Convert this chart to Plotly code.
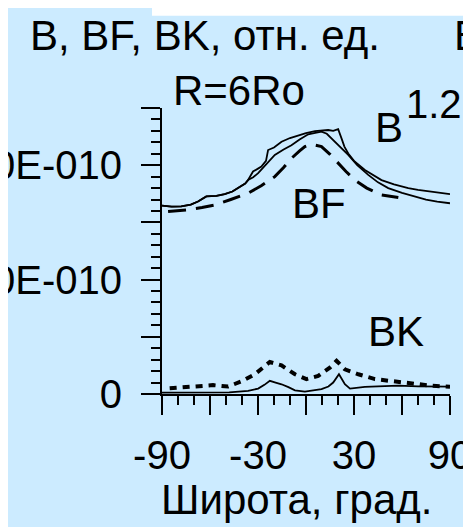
import plotly.graph_objects as go

# ---- data (latitude in degrees, values in relative units) ----
lat_b1 = [-90, -84, -78, -72, -67.5, -62.3, -56, -50.8, -46, -42.5, -38, -36.2, -33.1, -30, -27.9, -25, -23.7,
          -20, -15.3, -10, -4.9, 0, 5.6, 10, 13.9, 17, 20.1, 22.2, 24, 26.4, 30, 36.8, 42, 47.2, 55, 63.9, 70, 78.5, 84, 90]
val_b1 = [6.59e-10, 6.55e-10, 6.56e-10, 6.62e-10, 6.73e-10, 6.91e-10, 6.93e-10, 6.99e-10, 7.08e-10, 7.20e-10,
          7.36e-10, 7.48e-10, 7.78e-10, 7.88e-10, 7.95e-10, 8.15e-10, 8.53e-10, 8.62e-10, 8.82e-10, 8.95e-10,
          9.05e-10, 9.12e-10, 9.19e-10, 9.21e-10, 9.23e-10, 9.20e-10, 9.26e-10, 8.94e-10, 8.65e-10, 8.41e-10,
          8.15e-10, 7.83e-10, 7.64e-10, 7.48e-10, 7.33e-10, 7.20e-10, 7.14e-10, 7.08e-10, 7.04e-10, 6.99e-10]

lat_b2 = [-90, -84, -78, -72, -67.5, -62.3, -56, -50.8, -46, -42.5, -38, -36.2, -33, -29.9, -25, -19.5, -14,
          -9.1, -4, 1.4, 5, 9.7, 13, 15.9, 20, 26.4, 32, 38.9, 45, 51.4, 60, 68.1, 75, 82, 90]
val_b2 = [6.59e-10, 6.55e-10, 6.56e-10, 6.62e-10, 6.73e-10, 6.91e-10, 6.93e-10, 6.99e-10, 7.08e-10, 7.20e-10,
          7.36e-10, 7.48e-10, 7.58e-10, 7.72e-10, 8.02e-10, 8.36e-10, 8.55e-10, 8.70e-10, 8.90e-10, 9.08e-10,
          9.12e-10, 9.17e-10, 9.10e-10, 8.94e-10, 8.70e-10, 8.36e-10, 8.00e-10, 7.66e-10, 7.40e-10, 7.20e-10,
          7.03e-10, 6.91e-10, 6.80e-10, 6.73e-10, 6.67e-10]

lat_bf = [-86.2, -73.7, -65, -57.0, -47, -36.2, -28, -19.5, -14, -9.1, -4, -0.7, 3.4, 9.7, 15, 20.1, 25, 30.6, 38, 47.2, 57.7]
val_bf = [6.38e-10, 6.44e-10, 6.52e-10, 6.61e-10, 6.80e-10, 7.02e-10, 7.28e-10, 7.60e-10, 7.92e-10, 8.24e-10,
          8.50e-10, 8.65e-10, 8.73e-10, 8.65e-10, 8.38e-10, 8.07e-10, 7.78e-10, 7.48e-10, 7.20e-10, 6.96e-10, 6.87e-10]

lat_bk_solid = [-90, -75, -60, -48, -36.2, -29.9, -26, -22.6, -19, -15.3, -11, -6.9, -0.7, 5, 9.7, 14,
                17.0, 20.6, 22.5, 24.3, 27.5, 32, 36.8, 45, 57.7, 70, 80, 90]
val_bk_solid = [0.05e-10, 0.05e-10, 0.05e-10, 0.06e-10, 0.11e-10, 0.19e-10, 0.32e-10, 0.46e-10, 0.40e-10,
                0.34e-10, 0.24e-10, 0.13e-10, 0.08e-10, 0.12e-10, 0.17e-10, 0.26e-10, 0.40e-10, 0.69e-10,
                0.50e-10, 0.34e-10, 0.19e-10, 0.22e-10, 0.25e-10, 0.27e-10, 0.29e-10, 0.27e-10, 0.26e-10, 0.26e-10]

lat_bk_dash = [-85.2, -75.8, -67.5, -58.1, -48.7, -40.4, -32.0, -22.6, -15.3, -6.9, 0.3, 7.6, 14.9, 19.1,
               24.3, 32.7, 43.1, 51.4, 63.9, 78.5, 90]
val_bk_dash = [0.20e-10, 0.23e-10, 0.26e-10, 0.31e-10, 0.26e-10, 0.44e-10, 0.69e-10, 1.12e-10, 1.00e-10,
               0.69e-10, 0.52e-10, 0.63e-10, 0.92e-10, 1.16e-10, 0.86e-10, 0.69e-10, 0.52e-10, 0.46e-10,
               0.37e-10, 0.29e-10, 0.25e-10]

x_tickvals = [-90, -60, -30, 0, 30, 60, 90]
x_ticktext = ["-90", "", "-30", "", "30", "", "90"]
y_tickvals = [0, 2e-10, 4e-10, 6e-10, 8e-10, 1e-9]
y_ticktext = ["0", "", "4.0E-010", "", "8.0E-010", ""]

BG = "#CCEBFF"
FONT = "Arial, Liberation Sans, sans-serif"

fig = go.Figure()
fig.add_trace(go.Scatter(x=lat_b1, y=val_b1, mode="lines", line=dict(color="black", width=1.8), showlegend=False))
fig.add_trace(go.Scatter(x=lat_b2, y=val_b2, mode="lines", line=dict(color="black", width=1.8), showlegend=False))
fig.add_trace(go.Scatter(x=lat_bf, y=val_bf, mode="lines", line=dict(color="black", width=3, dash="18px,10px"),
                         showlegend=False))
fig.add_trace(go.Scatter(x=lat_bk_solid, y=val_bk_solid, mode="lines", line=dict(color="black", width=1.8),
                         showlegend=False))
fig.add_trace(go.Scatter(x=lat_bk_dash, y=val_bk_dash, mode="lines", line=dict(color="black", width=4, dash="7px,6px"),
                         showlegend=False))

L, R, T, B = 154, 471 - 441.7, 99.5, 527 - 386.5
PW, PH = 471 - L - R, 527 - T - B


def px(xp):
    return (xp - L) / PW


def py(yp):
    return (527 - B - yp) / PH


fig.update_layout(
    template="none",
    width=471, height=527,
    margin=dict(l=L, r=R, t=T, b=B, pad=0),
    paper_bgcolor=BG, plot_bgcolor=BG,
    font=dict(family=FONT, size=40, color="black"),
    xaxis=dict(range=[-90, 90], tickvals=x_tickvals, ticktext=x_ticktext, ticks="outside", ticklen=19,
               tickwidth=2, tickcolor="black", showline=True, linecolor="black", linewidth=2,
               showgrid=False, zeroline=False, automargin=False, ticklabelstandoff=6,
               minor=dict(dtick=10, ticks="outside", ticklen=9, tickwidth=2, tickcolor="black", showgrid=False),
               tickfont=dict(size=40)),
    yaxis=dict(range=[0, 1e-9], tickvals=y_tickvals, ticktext=y_ticktext, ticks="outside", ticklen=19,
               tickwidth=2, tickcolor="black", showline=True, linecolor="black", linewidth=2,
               showgrid=False, zeroline=False, automargin=False, ticklabelstandoff=11,
               minor=dict(dtick=0.4e-10, ticks="outside", ticklen=9, tickwidth=2, tickcolor="black", showgrid=False),
               tickfont=dict(size=40)),
)

ann = dict(xref="paper", yref="paper", showarrow=False, yanchor="middle")
f42 = dict(family=FONT, size=42, color="black")
f40 = dict(family=FONT, size=40, color="black")
fig.add_annotation(text="B, BF, BK, отн. ед.", x=px(20), y=py(27), xanchor="left", font=f42, **ann)
fig.add_annotation(text="B, BF, BK, отн. ед.", x=px(444), y=py(27), xanchor="left", font=f42, **ann)
fig.add_annotation(text="R=6Ro", x=px(163), y=py(82), xanchor="left", font=f42, **ann)
fig.add_annotation(text="1.2E-009", x=px(396), y=py(95), xanchor="left", font=f40, **ann)
fig.add_annotation(text="B", x=px(365), y=py(119), xanchor="left", font=f42, **ann)
fig.add_annotation(text="BF", x=px(282), y=py(195), xanchor="left", font=f42, **ann)
fig.add_annotation(text="BK", x=px(358), y=py(324), xanchor="left", font=f42, **ann)
fig.add_annotation(text="Широта, град.", x=px(288), y=py(492), xanchor="center", font=f42, **ann)

fig.add_shape(type="rect", xref="paper", yref="paper", x0=px(144), x1=px(480), y0=py(7), y1=py(-5),
              fillcolor="white", line=dict(width=0), layer="above")

fig.write_html("out.html")
